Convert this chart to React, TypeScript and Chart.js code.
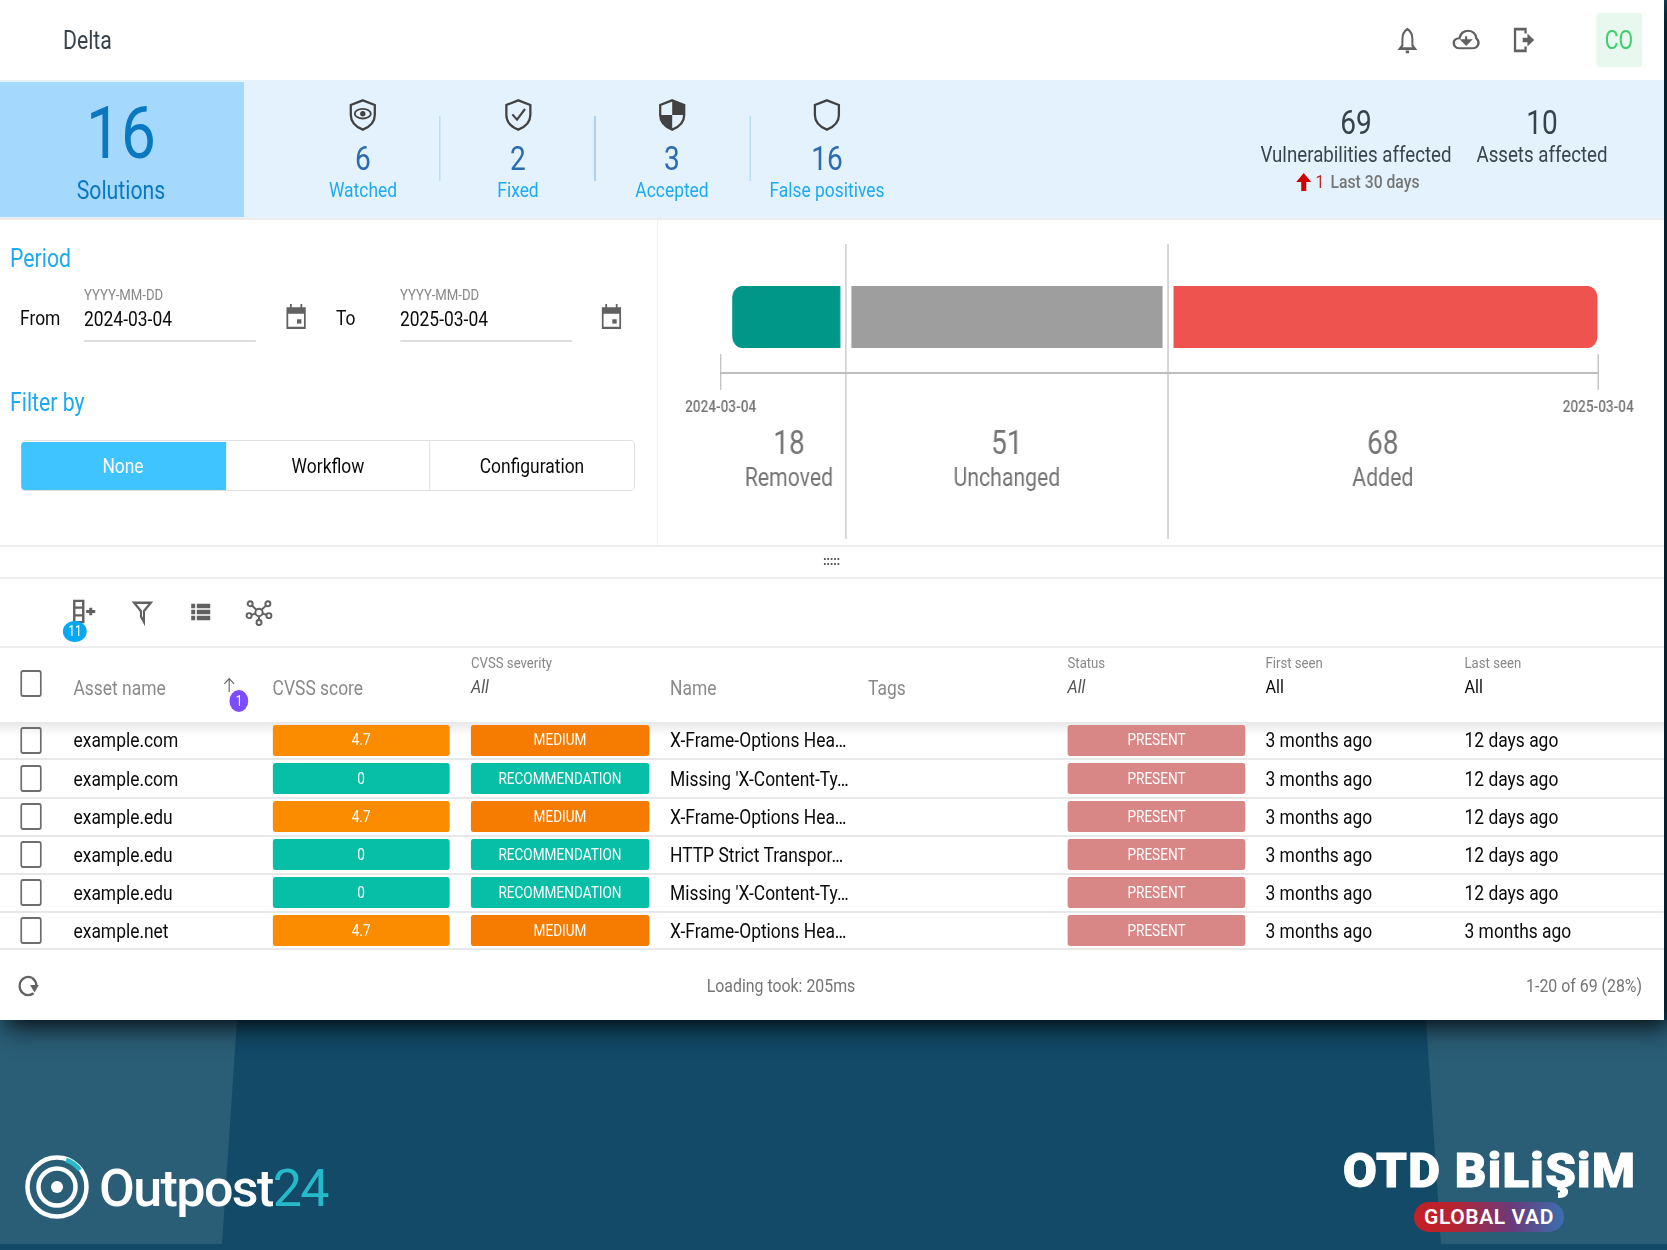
import { Chart, registerables } from "chart.js";
import React, { useEffect, useRef } from "react";

Chart.register(...registerables);

// the reference screenshot is squeezed sideways, so the page is laid out wide and scaled back
const S = 0.85;

const deltaLabels = ["Removed", "Unchanged", "Added"];
const deltaValues = [18, 51, 68];
const deltaColors = ["#009688", "#9e9e9e", "#ef5350"];
const periodDates = ["2024-03-04", "2025-03-04"];

const assets = ["example.com", "example.com", "example.edu", "example.edu", "example.edu", "example.net"];
const scores = ["4.7", "0", "4.7", "0", "0", "4.7"];
const severities = ["MEDIUM", "RECOMMENDATION", "MEDIUM", "RECOMMENDATION", "RECOMMENDATION", "MEDIUM"];
const names = [
  "X-Frame-Options Hea…",
  "Missing 'X-Content-Ty…",
  "X-Frame-Options Hea…",
  "HTTP Strict Transpor…",
  "Missing 'X-Content-Ty…",
  "X-Frame-Options Hea…",
];
const firstSeen = ["3 months ago", "3 months ago", "3 months ago", "3 months ago", "3 months ago", "3 months ago"];
const lastSeen = ["12 days ago", "12 days ago", "12 days ago", "12 days ago", "12 days ago", "3 months ago"];

const stats = [
  { label: "Watched", value: "6", x: 363 },
  { label: "Fixed", value: "2", x: 518 },
  { label: "Accepted", value: "3", x: 672 },
  { label: "False positives", value: "16", x: 827 },
];

const GREY = "#616161";
const BLUE = "#1eaaf1";

const T = ({ x, y, size, color = "#0a0a0a", align = "left", weight = 400, italic = false, children }: any) => (
  <div
    style={{
      position: "absolute",
      left: x / S,
      top: y,
      fontSize: size,
      lineHeight: 1,
      color,
      fontWeight: weight,
      fontStyle: italic ? "italic" : "normal",
      whiteSpace: "nowrap",
      transform: `translate(${align === "center" ? -50 : align === "right" ? -100 : 0}%, -50%)`,
    }}
  >
    {children}
  </div>
);

const Box = ({ x, y, w, h, color, radius = 0, style = {} }: any) => (
  <div
    style={{
      position: "absolute",
      left: x / S,
      top: y,
      width: w / S,
      height: h,
      background: color,
      borderRadius: radius,
      ...style,
    }}
  />
);

const Icon = ({ cx, cy, w, h, children }: any) => (
  <svg
    viewBox="0 0 24 24"
    preserveAspectRatio="none"
    style={{ position: "absolute", left: (cx - w / 2) / S, top: cy - h / 2, width: w / S, height: h, overflow: "visible" }}
  >
    {children}
  </svg>
);

const shieldPath = "M12 1 L21 4.5 V12 C21 17.5 17 21 12 23 C7 21 3 17.5 3 12 V4.5 Z";

const shieldMarks = [
  <g key="eye">
    <ellipse cx="12" cy="11" rx="6" ry="3.6" fill="none" stroke="#424242" strokeWidth="1.4" />
    <circle cx="12" cy="11" r="2" fill="#424242" />
  </g>,
  <path key="check" d="M7.5 11.5 L11 15.5 L17 7.5" fill="none" stroke="#424242" strokeWidth="1.6" />,
  <path key="half" d="M12 1 L21 4.5 V12 H12 Z M12 12 H3 C3 17.5 7 21 12 23 Z" fill="#424242" />,
  null,
];

const DeltaChart = () => {
  const chartRef = useRef<HTMLCanvasElement | null>(null);

  useEffect(() => {
    if (!chartRef.current) return;

    const gap = 6.8;
    const radius = 12;

    // dividers, end caps and the number + label under each bar
    const deltaOverlay = {
      id: "deltaOverlay",
      afterDraw(chart: any) {
        const { ctx, scales, chartArea } = chart;
        const x = scales.x;
        ctx.save();
        ctx.strokeStyle = "#bdbdbd";
        ctx.lineWidth = 1.4;
        let sum = 0;
        deltaValues.slice(0, -1).forEach((v) => {
          sum += v;
          const px = x.getPixelForValue(sum);
          ctx.beginPath();
          ctx.moveTo(px, 19);
          ctx.lineTo(px, 314);
          ctx.stroke();
        });
        [chartArea.left, chartArea.right].forEach((px) => {
          ctx.beginPath();
          ctx.moveTo(px, chartArea.bottom - 19);
          ctx.lineTo(px, chartArea.bottom + 17);
          ctx.stroke();
        });
        ctx.textAlign = "center";
        ctx.textBaseline = "middle";
        ctx.fillStyle = "#757575";
        deltaValues.forEach((v, i) => {
          const mid = chart.getDatasetMeta(i).data[0].getCenterPoint().x;
          ctx.font = "400 33px Roboto";
          ctx.fillText(String(v), mid, chartArea.bottom + 73);
          ctx.font = "400 25px Roboto";
          ctx.fillText(deltaLabels[i], mid, chartArea.bottom + 107);
        });
        ctx.restore();
      },
    };

    const chart = new Chart(chartRef.current, {
      type: "bar",
      data: {
        labels: ["Delta"],
        datasets: deltaLabels.map((label, i) => ({
          label,
          data: [deltaValues[i]],
          backgroundColor: deltaColors[i],
          borderColor: "#ffffff",
          borderSkipped: false,
          borderWidth: {
            left: i === 0 ? 0 : gap,
            right: i === deltaLabels.length - 1 ? 0 : gap,
            top: 0,
            bottom: 0,
          },
          borderRadius: {
            topLeft: i === 0 ? radius : 0,
            bottomLeft: i === 0 ? radius : 0,
            topRight: i === deltaLabels.length - 1 ? radius : 0,
            bottomRight: i === deltaLabels.length - 1 ? radius : 0,
          },
          barThickness: 62,
        })),
      },
      options: {
        indexAxis: "y",
        animation: false,
        responsive: false,
        layout: { padding: { left: 61 / S, right: 61 / S, top: 36, bottom: 0 } },
        plugins: { legend: { display: false }, tooltip: { enabled: false } },
        scales: {
          x: {
            stacked: true,
            min: -1.82,
            max: 137.1,
            afterBuildTicks: (scale: any) => {
              scale.ticks = [{ value: scale.min }, { value: scale.max }];
            },
            afterFit: (scale: any) => {
              scale.height = 167;
            },
            grid: { display: false },
            border: { display: true, color: "#bdbdbd", width: 2 },
            ticks: {
              autoSkip: false,
              maxRotation: 0,
              minRotation: 0,
              padding: 17,
              color: "#757575",
              font: { family: "Roboto", size: 16, weight: "500" },
              callback: (_v: any, i: number) => periodDates[i],
            },
          },
          y: { stacked: true, display: false },
        },
      },
      plugins: [deltaOverlay],
    } as any);

    return () => {
      chart.destroy();
    };
  }, []);

  return (
    <canvas
      ref={chartRef}
      width={Math.round(1000 / S)}
      height={315}
      style={{ position: "absolute", left: 660 / S, top: 225, width: Math.round(1000 / S), height: 315 }}
    />
  );
};

const Check = ({ y }: { y: number }) => (
  <div
    style={{
      position: "absolute",
      left: 20 / S,
      top: y - 13.5,
      width: 22 / S,
      height: 27,
      boxSizing: "border-box",
      border: "2.8px solid #6e6e6e",
      borderRadius: 3,
    }}
  />
);

const Cell = ({ x, w, y, color, text }: any) => (
  <>
    <Box x={x} y={y - 15.5} w={w} h={31} color={color} radius={3} />
    <T x={x + w / 2} y={y} size={16} color="#fff" align="center">
      {text}
    </T>
  </>
);

const Th = ({ x, title, value, italic }: any) => (
  <>
    <T x={x} y={663.5} size={15.5} color="#888">{title}</T>
    <T x={x} y={685.5} size={19} color={italic ? "#555" : "#0a0a0a"} italic={italic}>{value}</T>
  </>
);

export default function App() {
  const rowY = [740, 778.5, 816.5, 854.5, 892.5, 930.5];
  const lineY = [758, 797, 835, 873, 911, 948];

  return (
    <div style={{ position: "fixed", inset: 0, overflow: "hidden", background: "#124a68", fontFamily: "Roboto" }}>
      <svg width="1667" height="1250" style={{ position: "absolute", left: 0, top: 0 }}>
        <polygon points="0,1020 237,1020 222,1244 0,1244" fill="#2a5d76" />
        <polygon points="1426,1020 1667,1020 1667,1244 1441,1244" fill="#2a5d76" />
      </svg>
      <div
        style={{
          position: "absolute",
          left: 0,
          top: 0,
          width: 1664,
          height: 1020,
          background: "#fff",
          boxShadow: "6px 6px 24px rgba(0,0,0,.9)",
        }}
      />

      <div
        style={{
          position: "absolute",
          left: 0,
          top: 0,
          width: 1664 / S,
          height: 1020,
          transform: `scaleX(${S})`,
          transformOrigin: "0 0",
        }}
      >
        {/* header */}
        <T x={63} y={40} size={25} color="#37424a">Delta</T>
        <Icon cx={1407} cy={40} w={20} h={26}>
          <path d="M12 2 C8 4 6 7 6 11 V17 L3 20 H21 L18 17 V11 C18 7 16 4 12 2 Z M10 23 H14" fill="none" stroke={GREY} strokeWidth="2.4" />
        </Icon>
        <Icon cx={1466.5} cy={40} w={27} h={22}>
          <path d="M6 21 C2 21 1 17 1 15 C1 12 3 10 6 10 C7 5 10 2 14 2 C18 2 21 6 21 10 C22 11 23 13 23 15 C23 18 21 21 18 21 Z" fill="none" stroke={GREY} strokeWidth="2.2" />
          <path d="M12 8 V14 M8 12 L12 17 L16 12 Z" fill={GREY} stroke={GREY} strokeWidth="1.8" />
        </Icon>
        <Icon cx={1524} cy={40} w={23} h={26}>
          <path d="M14 6 V2 H3 V22 H14 V18" fill="none" stroke={GREY} strokeWidth="2.4" />
          <path d="M11 10 H16 V6 L23 12 L16 18 V14 H11 Z" fill={GREY} />
        </Icon>
        <Box x={1596} y={13} w={46} h={54} color="#e8f8ee" radius={4} />
        <T x={1619} y={40} size={25} color="#3ecf6e" align="center">CO</T>

        {/* summary band */}
        <Box x={0} y={80} w={1664} h={138} color="#e3f2fd" />
        <Box x={0} y={82} w={244} h={135} color="#a5d8fd" />
        <Box x={0} y={218} w={1664} h={1.5} color="#ececec" />
        <T x={121} y={133} size={73} color="#0a78c0" align="center">16</T>
        <T x={121} y={190} size={25} color="#0a78c0" align="center">Solutions</T>
        {stats.map((s, i) => (
          <React.Fragment key={s.label}>
            <Icon cx={s.x} cy={115} w={32} h={32}>
              <path d={shieldPath} fill="none" stroke="#424242" strokeWidth="1.7" />
              {shieldMarks[i]}
            </Icon>
            <T x={s.x} y={158} size={33} color="#2b6cb0" align="center">{s.value}</T>
            <T x={s.x} y={190} size={20.5} color={BLUE} align="center">{s.label}</T>
          </React.Fragment>
        ))}
        {[439.5, 594.5, 749.5].map((x) => (
          <Box key={x} x={x} y={116} w={1} h={65} color="#9fcfe8" />
        ))}
        <T x={1356} y={122} size={33} color="#37424a" align="center">69</T>
        <T x={1542} y={122} size={33} color="#37424a" align="center">10</T>
        <T x={1356} y={155} size={22} color="#3a444b" align="center">Vulnerabilities affected</T>
        <T x={1542} y={155} size={22} color="#3a444b" align="center">Assets affected</T>
        <Icon cx={1304} cy={182} w={15} h={18}>
          <path d="M12 0 L24 12 H16 V24 H8 V12 H0 Z" fill="#d00000" />
        </Icon>
        <T x={1320} y={182} size={18.5} color="#c62828" align="center">1</T>
        <T x={1330.5} y={182} size={18.5} color="#757575" weight={500}>Last 30 days</T>

        {/* period and filter */}
        <Box x={657} y={219} w={1} h={326} color="#eeeeee" />
        <T x={10} y={258} size={25} color={BLUE}>Period</T>
        <T x={84} y={295.5} size={15.5} color="#888">YYYY-MM-DD</T>
        <T x={400} y={295.5} size={15.5} color="#888">YYYY-MM-DD</T>
        <T x={20} y={318} size={20.5}>From</T>
        <T x={336} y={318} size={20.5}>To</T>
        <T x={84} y={319} size={20.5}>{periodDates[0]}</T>
        <T x={400} y={319} size={20.5}>{periodDates[1]}</T>
        <Box x={84} y={340} w={172} h={1.5} color="#dddddd" />
        <Box x={400} y={340} w={172} h={1.5} color="#dddddd" />
        {[296, 611.5].map((x) => (
          <Icon key={x} cx={x} cy={316} w={21} h={26}>
            <path d="M1 4 H5 V1 H7 V4 H17 V1 H19 V4 H23 V24 H1 Z M3 10 V22 H21 V10 Z" fill={GREY} fillRule="evenodd" />
            <rect x="13" y="15" width="5" height="4" fill={GREY} />
          </Icon>
        ))}
        <T x={10} y={402} size={25} color={BLUE}>Filter by</T>
        <Box x={21} y={440} w={614} h={51} color="#fff" radius={5} style={{ border: "1.5px solid #dddddd", boxSizing: "border-box" }} />
        <Box x={21} y={441.5} w={205} h={48} color="#40c4ff" radius={4} style={{ borderTopRightRadius: 0, borderBottomRightRadius: 0 }} />
        <Box x={429} y={441} w={1} h={49} color="#dddddd" />
        <T x={123} y={466} size={20.5} color="#fff" align="center">None</T>
        <T x={328} y={466} size={20.5} align="center">Workflow</T>
        <T x={532} y={466} size={20.5} align="center">Configuration</T>

        <DeltaChart />

        {/* resize handle */}
        <Box x={0} y={545} w={1664} h={1.5} color="#eeeeee" />
        <Box x={0} y={577} w={1664} h={1.5} color="#eeeeee" />
        <svg viewBox="0 0 20 8" style={{ position: "absolute", left: 821 / S, top: 557, width: 21 / S, height: 8 }}>
          {[1, 5, 9, 13, 17].map((x) =>
            [1, 6].map((y) => <rect key={`${x}-${y}`} x={x} y={y} width="2" height="2" fill="#555" />)
          )}
        </svg>

        {/* toolbar */}
        <Icon cx={84} cy={611} w={24} h={23}>
          <path d="M2 1 H11 V23 H2 Z M2 8 H11 M2 16 H11" fill="none" stroke={GREY} strokeWidth="2.4" />
          <path d="M14 12 H23 M18.5 8 V16" stroke={GREY} strokeWidth="3" fill="none" />
        </Icon>
        <Icon cx={142.5} cy={612} w={18} h={22}>
          <path d="M1 2 H23 L14 11 V23 L10 17 V11 Z" fill="none" stroke={GREY} strokeWidth="2.8" />
        </Icon>
        <Icon cx={201} cy={612} w={19} h={18}>
          <path d="M0 1 H5 V7 H0 Z M7 1 H24 V7 H7 Z M0 9 H5 V15 H0 Z M7 9 H24 V15 H7 Z M0 17 H5 V23 H0 Z M7 17 H24 V23 H7 Z" fill={GREY} />
        </Icon>
        <Icon cx={259} cy={612} w={25} h={25}>
          <g fill="none" stroke={GREY} strokeWidth="1.9">
            <circle cx="12" cy="12" r="3.5" />
            <circle cx="3.5" cy="3.5" r="2.4" />
            <circle cx="20.5" cy="3.5" r="2.4" />
            <circle cx="2.5" cy="15" r="2.4" />
            <circle cx="21.5" cy="15" r="2.4" />
            <circle cx="12" cy="21.5" r="2.4" />
            <path d="M5 5 L9.5 9.5 M19 5 L14.5 9.5 M4.8 14.3 L8.7 13 M19.2 14.3 L15.3 13 M12 15.5 V19" />
          </g>
        </Icon>
        <Box x={63} y={620.5} w={24} h={21} color="#03a9f4" radius="50%" />
        <T x={75} y={631} size={14} color="#fff" align="center">11</T>

        {/* table header */}
        <Box x={0} y={646} w={1664} h={1.5} color="#eeeeee" />
        <Check y={683.5} />
        <T x={73.5} y={688} size={20.5} color="#8a8a8a">Asset name</T>
        <T x={272.6} y={688} size={20.5} color="#8a8a8a">CVSS score</T>
        <T x={670} y={688} size={20.5} color="#8a8a8a">Name</T>
        <T x={868} y={688} size={20.5} color="#8a8a8a">Tags</T>
        <Icon cx={229} cy={684.5} w={13} h={14}>
          <path d="M12 24 V1 M3 10 L12 1 L21 10" fill="none" stroke={GREY} strokeWidth="2" />
        </Icon>
        <Box x={229.5} y={690} w={19} h={22} color="#7c4dff" radius="50%" />
        <T x={239} y={701} size={14} color="#fff" align="center">1</T>
        <Th x={471} title="CVSS severity" value="All" italic />
        <Th x={1067.5} title="Status" value="All" italic />
        <Th x={1265.5} title="First seen" value="All" />
        <Th x={1464.5} title="Last seen" value="All" />
        <Box x={0} y={722} w={1664} h={14} color="transparent" style={{ background: "linear-gradient(rgba(0,0,0,.09), rgba(0,0,0,0))" }} />

        {/* table rows */}
        {assets.map((asset, i) => {
          const y = rowY[i];
          const low = scores[i] === "0";
          return (
            <React.Fragment key={i}>
              <Check y={y} />
              <T x={73.5} y={y} size={20.5}>{asset}</T>
              <Cell x={272.6} w={177} y={y} color={low ? "#06bfa6" : "#fb8c00"} text={scores[i]} />
              <Cell x={471} w={178} y={y} color={low ? "#06bfa6" : "#f57c00"} text={severities[i]} />
              <T x={670} y={y} size={20.5}>{names[i]}</T>
              <Cell x={1067.5} w={178} y={y} color="#d98686" text="PRESENT" />
              <T x={1265.5} y={y} size={20.5}>{firstSeen[i]}</T>
              <T x={1464.5} y={y} size={20.5}>{lastSeen[i]}</T>
              <Box x={0} y={lineY[i]} w={1664} h={1.5} color="#e8e8e8" />
            </React.Fragment>
          );
        })}

        {/* footer */}
        <Icon cx={28} cy={985.5} w={21} h={22}>
          <path d="M16 3 C9 0 2 5 2 12 C2 18 7 22 12 22 C14 22 16 21 18 20" fill="none" stroke={GREY} strokeWidth="2.6" />
          <path d="M16 3 C19 5 21 8 21 11" fill="none" stroke={GREY} strokeWidth="2.6" />
          <path d="M14 11 H24 L19 19 Z" fill={GREY} />
        </Icon>
        <T x={781} y={985.5} size={18.7} color="#757575" align="center">Loading took: 205ms</T>
        <T x={1642} y={985.5} size={18.7} color="#757575" align="right">1-20 of 69 (28%)</T>
      </div>

      {/* logos */}
      <svg width="70" height="70" style={{ position: "absolute", left: 22, top: 1152 }}>
        <g fill="none" stroke="#fff">
          <circle cx="35" cy="35" r="29.5" strokeWidth="4.5" />
          <circle cx="35" cy="35" r="18.5" strokeWidth="4.5" />
        </g>
        <circle cx="35" cy="35" r="6" fill="#fff" />
        <path d="M44 8 A29.5 29.5 0 0 1 58 18" fill="none" stroke="#2bb8c8" strokeWidth="4.5" />
      </svg>
      <div
        style={{
          position: "absolute",
          left: 99,
          top: 1159,
          fontSize: 52,
          lineHeight: "60px",
          letterSpacing: -1.6,
          color: "#fff",
          fontWeight: 500,
          whiteSpace: "nowrap",
        }}
      >
        Outpost<span style={{ color: "#25b9c9", fontWeight: 400 }}>24</span>
      </div>
      <div
        style={{
          position: "absolute",
          left: 1343,
          top: 1142,
          fontSize: 49,
          lineHeight: "58px",
          letterSpacing: 1.3,
          color: "#fff",
          fontWeight: 900,
          WebkitTextStroke: "1px #fff",
          whiteSpace: "nowrap",
        }}
      >
        OTD BiLiŞiM
      </div>
      <div
        style={{
          position: "absolute",
          left: 1414,
          top: 1202,
          width: 150,
          height: 30,
          borderRadius: 15,
          background: "linear-gradient(90deg, #c51f26 0%, #b8232f 25%, #6b3a7a 65%, #3a6fb0 100%)",
          color: "#fff",
          fontSize: 21,
          fontWeight: 600,
          letterSpacing: 0.6,
          lineHeight: "30px",
          textAlign: "center",
          whiteSpace: "nowrap",
        }}
      >
        GLOBAL VAD
      </div>
    </div>
  );
}
